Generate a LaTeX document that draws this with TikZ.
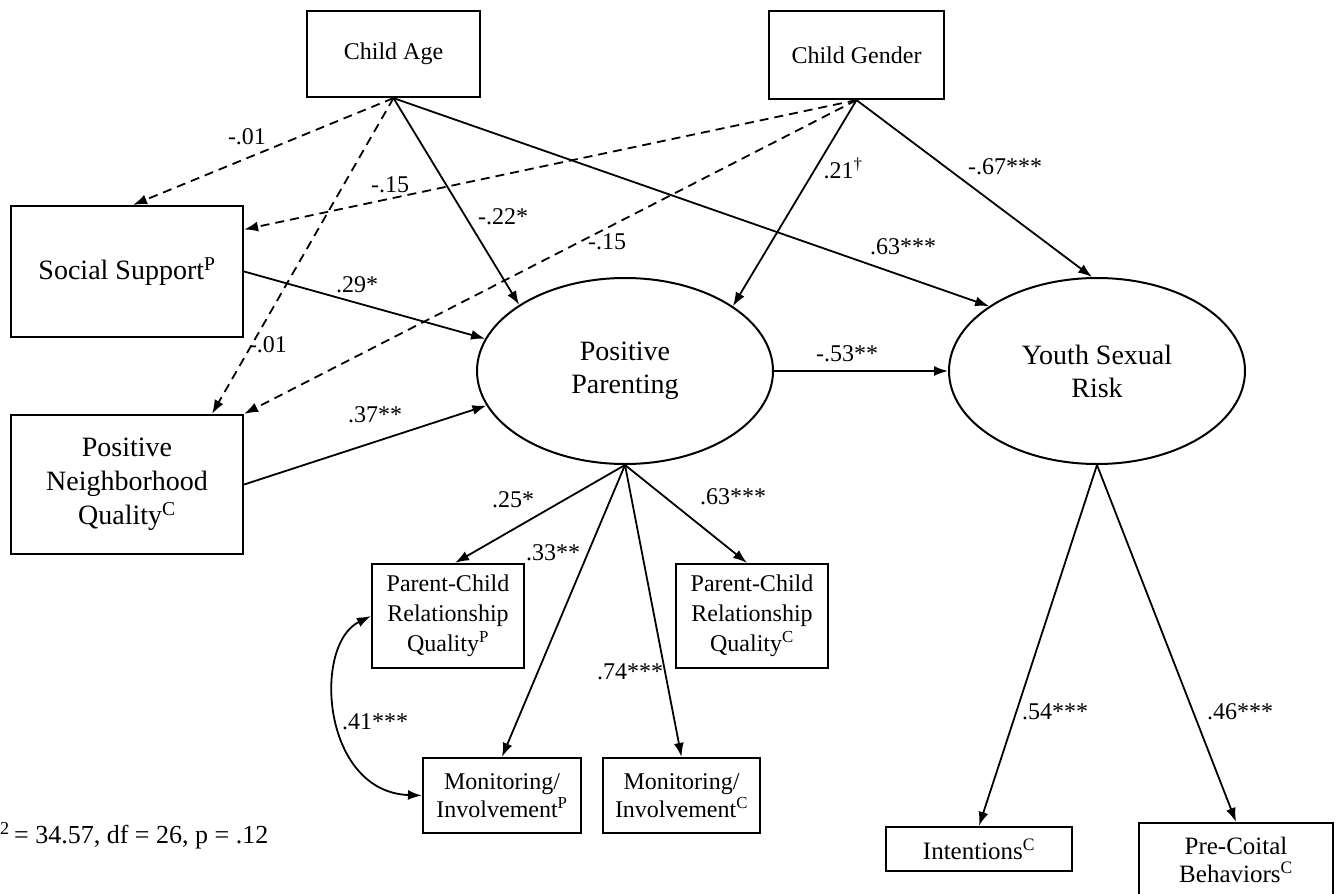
\documentclass[tikz,border=0pt]{standalone}
\usepackage{fontspec}
\setmainfont{Liberation Serif}
\usetikzlibrary{shapes.geometric,arrows.meta}
\begin{document}
\begin{tikzpicture}[x=1pt,y=-1pt,
  box/.style={draw, line width=2.2pt, inner sep=0pt, align=center, font=\fontsize{24}{30}\selectfont},
  lat/.style={draw, ellipse, line width=2pt, minimum width=296pt, minimum height=186pt, inner sep=0pt, align=center, font=\fontsize{28}{33}\selectfont},
  conn/.style={line width=1.8pt, -{Latex[length=14pt,width=10pt]}},
  dsh/.style={conn, dash pattern=on 9pt off 6pt},
  lab/.style={font=\fontsize{24}{28}\selectfont, inner sep=0pt}]
\useasboundingbox (0,0) rectangle (1341,894);
\clip (0,0) rectangle (1341,894);

% nodes
\node[box, minimum width=173pt, minimum height=86pt] (age) at (393.5,54) {Child Age};
\node[box, minimum width=175pt, minimum height=88pt] (gen) at (856.5,55) {Child Gender};
\node[box, minimum width=232pt, minimum height=131pt, font=\fontsize{28}{34}\selectfont] (ss) at (127,271.5) {Social Support\textsuperscript{P}};
\node[box, minimum width=232pt, minimum height=139pt, font=\fontsize{28}{34}\selectfont] (pnq) at (127,484.5) {Positive\\Neighborhood\\Quality\textsuperscript{C}};
\node[lat] (pp) at (625,371) {Positive\\Parenting};
\node[lat] (ysr) at (1097,371) {Youth Sexual\\Risk};
\node[box, minimum width=152pt, minimum height=104pt] (pcrqp) at (448,616) {Parent-Child\\Relationship\\Quality\textsuperscript{P}};
\node[box, minimum width=152pt, minimum height=104pt] (pcrqc) at (752,616) {Parent-Child\\Relationship\\Quality\textsuperscript{C}};
\node[box, minimum width=158pt, minimum height=75pt, font=\fontsize{24}{28}\selectfont] (monp) at (502,795.5) {Monitoring/\\Involvement\textsuperscript{P}};
\node[box, minimum width=157pt, minimum height=75pt, font=\fontsize{24}{28}\selectfont] (monc) at (681.5,795.5) {Monitoring/\\Involvement\textsuperscript{C}};
\node[box, minimum width=186pt, minimum height=44pt, font=\fontsize{25}{28}\selectfont] (int) at (979,849) {Intentions\textsuperscript{C}};
\node[box, minimum width=194pt, minimum height=74pt, font=\fontsize{25}{28}\selectfont] (pcb) at (1236,860) {Pre-Coital\\Behaviors\textsuperscript{C}};

% connectors
\draw[dsh] (age.south) -- ([xshift=6pt]ss.north);
\draw[dsh] (age.south) -- ([xshift=85pt]pnq.north);
\draw[conn] (age.south) -- (pp.148);
\draw[conn] (age.south) -- (ysr.149);
\draw[dsh] (gen.south) -- ([yshift=42pt]ss.east);
\draw[dsh] (gen.south) -- (pnq.north east);
\draw[conn] (gen.south) -- (pp.31);
\draw[conn] (gen.south) -- (ysr.93);
\draw[conn] (ss.east) -- (pp.167);
\draw[conn] (pnq.east) -- (pp.194);
\draw[conn] (pp.east) -- (ysr.west);
\draw[conn] (pp.south) -- ([xshift=7pt]pcrqp.north);
\draw[conn] (pp.south) -- (monp.north);
\draw[conn] (pp.south) -- (monc.north);
\draw[conn] (pp.south) -- ([xshift=-5pt]pcrqc.north);
\draw[line width=1.8pt, {Latex[length=14pt,width=10pt]}-{Latex[length=14pt,width=10pt]}] (pcrqp.west) .. controls (312,645) and (322,792) .. (monp.west);
\draw[conn] (ysr.south) -- (int.north);
\draw[conn] (ysr.south) -- (pcb.north);

% labels
\node[lab] (l1) at (247,137) {-.01};
\node[lab] (l2) at (268,345) {-.01};
\node[lab] (l3) at (503,217) {-.22*};
\node[lab] (l4) at (903,247) {.63***};
\node[lab] (l5) at (390,185) {-.15};
\node[lab] (l6) at (607,242) {-.15};
\node[lab] (l7) at (843,168) {.21\textsuperscript{\textdagger}};
\node[lab] (l8) at (1005,167) {-.67***};
\node[lab] (l9) at (357,285) {.29*};
\node[lab] (l10) at (375,415) {.37**};
\node[lab] (l11) at (847,354) {-.53**};
\node[lab] (l12) at (513,500) {.25*};
\node[lab] (l13) at (553,553) {.33**};
\node[lab] (l14) at (630,672) {.74***};
\node[lab] (l15) at (733,497) {.63***};
\node[lab] (l16) at (375,722) {.41***};
\node[lab] (l17) at (1055,712) {.54***};
\node[lab] (l18) at (1240,712) {.46***};
\node[anchor=west, inner sep=0pt, font=\fontsize{26}{30}\selectfont] (fit) at (0,836) {\textsuperscript{2}\,= 34.57, df = 26, p = .12};
\end{tikzpicture}
\end{document}
